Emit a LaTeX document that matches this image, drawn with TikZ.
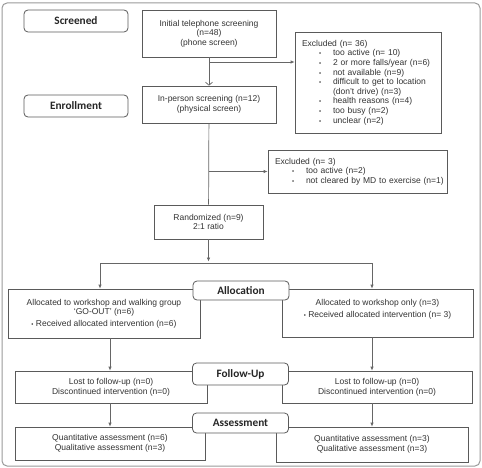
\documentclass[tikz,border=0pt]{standalone}
\usepackage{fontspec}
\setmainfont{Liberation Sans}
\newfontfamily\stagefont{Carlito}
\usepackage{xcolor}
\usepackage{tikz}
\usetikzlibrary{arrows.meta,positioning}
\definecolor{boxgray}{HTML}{5A5A5A}
\definecolor{linegray}{HTML}{666666}
\definecolor{txtgray}{HTML}{333333}
\newcommand{\blt}{{\fontsize{6}{6}\selectfont\textbullet}}
\newcommand{\itm}[1]{\hspace*{17pt}\makebox[14pt][l]{\blt}\mbox{#1}}

\begin{document}
\begin{tikzpicture}[x=1pt, y=-1pt, font=\fontsize{8.5}{9.6}\selectfont, text=txtgray,
    box node/.style={draw=boxgray, line width=0.7pt, align=center, inner sep=0pt, fill=white},
    list node/.style={box node, align=left, inner xsep=7pt},
    stage node/.style={draw=boxgray, line width=0.8pt, rounded corners=4pt, fill=white, inner sep=0pt,
        minimum width=96pt, font=\stagefont\bfseries\fontsize{11.3}{12}\selectfont, text=black!85},
    conn/.style={draw=linegray, line width=0.7pt},
    arr/.style={conn, -{Latex[length=4pt,width=3.5pt]}}]

    \useasboundingbox (0,0) rectangle (482,468);
    \draw[draw=gray!80, line width=1pt, rounded corners=5pt] (2,3) rectangle (480,466);

    % screening
    \node[stage node, minimum width=104pt, minimum height=22pt] (screened) at (76,21) {Screened};
    \node[stage node, minimum width=104pt, minimum height=22pt] (enroll) at (76,106) {Enrollment};
    \node[box node, minimum width=134pt, minimum height=47pt] (phone) at (209,33.5)
        {Initial telephone screening\\(n=48)\\(phone screen)};
    \node[list node, text width=132pt, minimum height=101pt] (excl1) at (368,82.5)
        {Excluded (n= 36)\\
         \itm{too active (n= 10)}\\
         \itm{2 or more falls/year (n=6)}\\
         \itm{not available (n=9)}\\
         \itm{difficult to get to location}\\
         \hspace*{31pt}(don’t drive) (n=3)\\
         \itm{health reasons (n=4)}\\
         \itm{too busy (n=2)}\\
         \itm{unclear (n=2)}};
    \node[box node, minimum width=134pt, minimum height=37pt] (inperson) at (209,104.5)
        {In-person screening (n=12)\\(physical screen)};
    \node[list node, text width=165pt, minimum height=43pt] (excl2) at (357.5,171.5)
        {Excluded (n= 3)\\
         \itm{too active (n=2)}\\
         \itm{not cleared by MD to exercise (n=1)}};
    \node[box node, minimum width=109pt, minimum height=34pt] (rand) at (208.5,222)
        {Randomized (n=9)\\2:1 ratio};

    % groups
    \node[box node, minimum width=192pt, minimum height=49pt] (allocL) at (104,313.5)
        {Allocated to workshop and walking group\\‘GO-OUT’ (n=6)\\[1.5pt]\blt\ Received allocated intervention (n=6)};
    \node[box node, minimum width=191pt, minimum height=48pt] (allocR) at (377.5,313)
        {Allocated to workshop only (n=3)\\[2.4pt]\blt\ Received allocated intervention (n= 3)\\~};
    \node[box node, minimum width=192pt, minimum height=32pt] (followL) at (111,387)
        {Lost to follow-up (n=0)\\Discontinued intervention (n=0)};
    \node[box node, minimum width=190pt, minimum height=32pt] (followR) at (377,387)
        {Lost to follow-up (n=0)\\Discontinued intervention (n=0)};
    \node[box node, minimum width=190pt, minimum height=33pt] (assessL) at (110,443.5)
        {Quantitative assessment (n=6)\\Qualitative assessment (n=3)};
    \node[box node, minimum width=192pt, minimum height=35pt] (assessR) at (372,444.5)
        {Quantitative assessment (n=3)\\Qualitative assessment (n=3)};

    % connectors
    \coordinate (split1) at (209,62);
    \coordinate (forkL) at (100,263);
    \coordinate (forkR) at (372,263);
    \draw[conn, -{Straight Barb[length=3pt,width=7pt]}] (phone) -- (inperson);
    \draw[arr] (split1) -- (split1 -| excl1.west);
    \draw[conn] (inperson) -- (rand);
    \draw[arr] (inperson.south |- excl2.west) -- (excl2.west);
    \draw[arr, shorten >=1.5pt] (rand) -- (rand.south |- forkL);
    \draw[conn] (forkL) -- (forkR);
    \draw[arr] (forkL) -- (forkL |- allocL.north);
    \draw[arr] (forkR) -- (forkR |- allocR.north);
    \draw[arr] (allocL.south -| assessL.north) -- (followL.north -| assessL.north);
    \draw[arr] (followL.south -| assessL.north) -- (assessL);
    \draw[arr] (allocR.south -| assessR.north) -- (followR.north -| assessR.north);
    \draw[arr] (followR.south -| assessR.north) -- (assessR);

    % stage labels
    \node[stage node, minimum height=19pt] (alloc) at (241,290.5) {Allocation};
    \node[stage node, minimum height=22pt] (follow) at (240.5,374) {Follow-Up};
    \node[stage node, minimum height=20pt] (assess) at (240.5,423) {Assessment};
\end{tikzpicture}
\end{document}
